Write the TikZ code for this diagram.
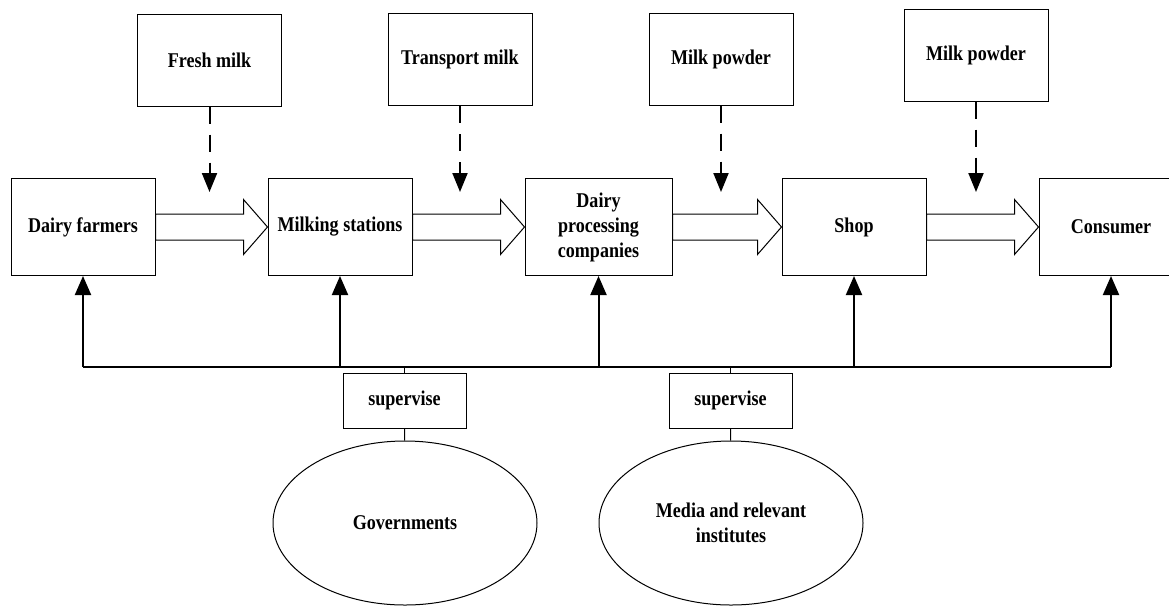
\documentclass[tikz,border=0pt]{standalone}
\usepackage{fontspec}
\setmainfont{Liberation Serif}[FakeStretch=0.86]
\usepackage{tikz}
\usetikzlibrary{arrows.meta,positioning,shapes.geometric,calc}
\tikzset{
  stage/.style={draw, line width=1pt, minimum width=144pt, minimum height=97pt,
    align=center, inner sep=2pt, font=\fontsize{21}{25}\selectfont\bfseries},
  goods/.style={stage, minimum height=92pt},
  supbox/.style={stage, minimum width=123pt, minimum height=55pt},
  party/.style={draw, ellipse, line width=1pt, minimum width=264pt, minimum height=164pt,
    align=center, inner sep=0pt, font=\fontsize{21}{25}\selectfont\bfseries},
  bigflow/.style={draw, line width=1pt, line join=miter, to path={
    ($(\tikztostart)+(0,13pt)$) -- ($(\tikztotarget)+(-24pt,13pt)$)
    -- ($(\tikztotarget)+(-24pt,27.5pt)$) -- (\tikztotarget)
    -- ($(\tikztotarget)+(-24pt,-27.5pt)$) -- ($(\tikztotarget)+(-24pt,-13pt)$)
    -- ($(\tikztostart)+(0,-13pt)$) -- cycle}},
  dashflow/.style={-{Triangle[length=19pt,width=15pt]}, line width=2pt, dash pattern=on 17pt off 11pt},
  upflow/.style={-{Triangle[length=19pt,width=16pt]}, line width=2pt},
  busline/.style={line width=2pt},
  stem/.style={line width=1pt}
}
\begin{document}
\begin{tikzpicture}[x=1pt, y=-1pt, node distance=112pt]
      \useasboundingbox (0,0) rectangle (1169,606);
      \clip (0,0) rectangle (1169,606);
      \node[stage] (farmer) at (83,227) {Dairy farmers};
      \node[stage, right=of farmer] (station) {Milking stations};
      \node[stage, minimum width=147pt, right=of station] (plant) {Dairy\\processing\\companies};
      \node[stage, right=109pt of plant] (shop) {Shop};
      \node[stage, right=of shop] (consumer) {Consumer};
      \node[goods] (fresh) at (209.5,60) {Fresh milk};
      \node[goods] (transport) at (460,59.5) {Transport milk};
      \node[goods] (powder) at (721,59) {Milk powder};
      \node[goods] (powder2) at (976,55) {Milk powder};
      \coordinate (tipA) at (209.5,192);
      \coordinate (tipB) at (460,192);
      \coordinate (tipC) at (721,192);
      \coordinate (tipD) at (976,192);
      \draw[dashflow] (fresh.south) -- (tipA);
      \draw[dashflow] (transport.south) -- (tipB);
      \draw[dashflow] (powder.south) -- (tipC);
      \draw[dashflow] (powder2.south) -- (tipD);
      \draw[bigflow] (farmer.east) to (station.west);
      \draw[bigflow] (station.east) to (plant.west);
      \draw[bigflow] (plant.east) to (shop.west);
      \draw[bigflow] (shop.east) to (consumer.west);
      % supervision
      \coordinate (bus) at (0,367);
      \draw[busline] (farmer.south |- bus) -- (consumer.south |- bus);
      \draw[upflow] (farmer.south |- bus) -- (farmer.south);
      \draw[upflow] (station.south |- bus) -- (station.south);
      \draw[upflow] (plant.south |- bus) -- (plant.south);
      \draw[upflow] (shop.south |- bus) -- (shop.south);
      \draw[upflow] (consumer.south |- bus) -- (consumer.south);
      \node[supbox] (supA) at (404.5,400.5) {supervise};
      \node[supbox] (supB) at (730.5,400.5) {supervise};
      \node[party] (gov) at (405,523) {Governments};
      \node[party] (media) at (731,523) {Media and relevant\\institutes};
      \draw[stem] (supA.north) -- (supA.north |- bus);
      \draw[stem] (supB.north) -- (supB.north |- bus);
      \draw[stem] (supA) -- (gov);
      \draw[stem] (supB) -- (media);
    \end{tikzpicture}
\end{document}
